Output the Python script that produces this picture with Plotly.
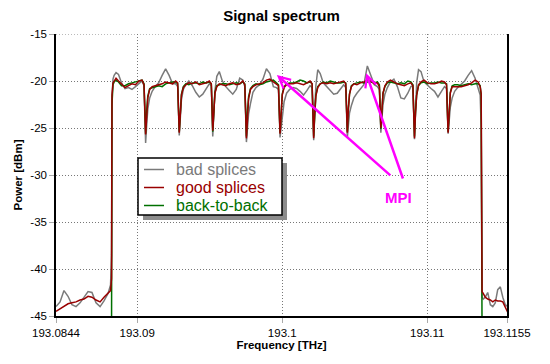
import plotly.graph_objects as go

# ---------------- data ----------------
freq_thz = [
    # left noise floor
    193.08440, 193.08468, 193.08495, 193.08523, 193.08550, 193.08578, 193.08606, 193.08633,
    193.08661, 193.08688, 193.08716, 193.08744, 193.08771, 193.08799, 193.08816, 193.08823,
    # sub-channel 0
    193.08826, 193.08833, 193.08841, 193.08854, 193.08871, 193.08892, 193.08916, 193.08940,
    193.08964, 193.08988, 193.09012, 193.09033, 193.09047,
    # sub-channel 1
    193.09058, 193.09065, 193.09073, 193.09086, 193.09103, 193.09124, 193.09148, 193.09172,
    193.09196, 193.09220, 193.09244, 193.09265, 193.09279,
    # sub-channel 2
    193.09290, 193.09297, 193.09305, 193.09318, 193.09335, 193.09356, 193.09380, 193.09404,
    193.09428, 193.09452, 193.09476, 193.09497, 193.09511,
    # sub-channel 3
    193.09521, 193.09528, 193.09536, 193.09549, 193.09566, 193.09587, 193.09611, 193.09635,
    193.09659, 193.09683, 193.09707, 193.09728, 193.09742,
    # sub-channel 4
    193.09753, 193.09760, 193.09768, 193.09781, 193.09798, 193.09819, 193.09843, 193.09867,
    193.09891, 193.09915, 193.09939, 193.09960, 193.09974,
    # sub-channel 5
    193.09985, 193.09992, 193.10000, 193.10013, 193.10030, 193.10051, 193.10075, 193.10099,
    193.10123, 193.10147, 193.10171, 193.10192, 193.10206,
    # sub-channel 6
    193.10217, 193.10224, 193.10232, 193.10245, 193.10262, 193.10283, 193.10307, 193.10331,
    193.10355, 193.10379, 193.10403, 193.10424, 193.10438,
    # sub-channel 7
    193.10449, 193.10456, 193.10464, 193.10477, 193.10494, 193.10515, 193.10539, 193.10563,
    193.10587, 193.10611, 193.10635, 193.10656, 193.10670,
    # sub-channel 8
    193.10680, 193.10687, 193.10695, 193.10708, 193.10725, 193.10746, 193.10770, 193.10794,
    193.10818, 193.10842, 193.10866, 193.10887, 193.10901,
    # sub-channel 9
    193.10912, 193.10919, 193.10927, 193.10940, 193.10957, 193.10978, 193.11002, 193.11026,
    193.11050, 193.11074, 193.11098, 193.11119, 193.11133,
    # sub-channel 10
    193.11144, 193.11151, 193.11159, 193.11172, 193.11189, 193.11210, 193.11234, 193.11258,
    193.11282, 193.11306, 193.11330, 193.11351, 193.11365,
    # falling edge
    193.11372, 193.11378,
    # right noise floor
    193.11386, 193.11400, 193.11417, 193.11435, 193.11452, 193.11469, 193.11486, 193.11504,
    193.11521, 193.11538, 193.11555,
]

bad_splices_dbm = [
    -44.0, -43.5, -42.3, -42.9, -43.8, -44.0, -43.6, -43.0, -42.4, -42.5, -43.6, -44.0, -43.4, -42.6, -41.7, -38.5,
    -22.0, -19.8, -19.4, -19.1, -19.3, -20.2, -20.8, -20.7, -20.9, -20.6, -20.3, -20.0, -20.5,
    -26.6, -24.8, -23.0, -21.8, -21.1, -20.6, -20.2, -19.4, -18.7, -19.4, -20.3, -20.3, -20.6,
    -25.8, -23.8, -22.0, -20.9, -20.4, -20.0, -20.5, -21.2, -21.7, -21.4, -20.8, -20.3, -20.5,
    -25.9, -23.5, -21.0, -19.5, -19.0, -20.0, -20.6, -21.0, -21.4, -20.9, -19.7, -19.9, -20.6,
    -26.5, -25.0, -23.5, -22.4, -21.2, -20.7, -20.4, -19.8, -18.7, -19.2, -20.6, -20.7, -20.9,
    -26.0, -25.0, -23.6, -22.2, -21.3, -20.9, -20.7, -20.8, -21.1, -21.5, -21.0, -20.5, -20.7,
    -26.3, -23.0, -20.5, -18.8, -19.2, -20.2, -20.6, -20.9, -21.4, -21.3, -20.8, -20.4, -20.7,
    -26.0, -24.8, -23.4, -22.6, -21.8, -21.3, -20.8, -20.4, -18.4, -19.3, -20.4, -20.6, -20.9,
    -25.5, -24.0, -22.5, -21.4, -20.7, -20.1, -19.8, -20.6, -21.8, -21.9, -21.3, -20.6, -20.5,
    -26.2, -22.8, -20.2, -18.8, -19.0, -20.1, -20.5, -20.8, -21.1, -21.7, -21.1, -20.6, -20.8,
    -25.6, -24.3, -22.8, -21.8, -21.1, -20.7, -20.4, -20.0, -19.4, -18.9, -19.7, -20.9, -21.5,
    -25.0, -43.0,
    -43.2, -43.0, -42.5, -43.8, -44.0, -43.6, -42.2, -41.9, -43.0, -43.8, -44.0,
]

good_splices_dbm = [
    -44.5, -44.2, -44.0, -43.7, -43.6, -43.5, -43.3, -43.2, -42.9, -43.0, -43.3, -43.5, -43.0, -42.6, -42.3, -41.0,
    -21.5, -20.2, -20.0, -19.7, -20.0, -20.3, -20.7, -20.5, -20.3, -20.4, -20.0, -19.9, -20.4,
    -25.7, -23.4, -21.8, -20.9, -20.6, -20.5, -20.4, -20.3, -20.1, -20.2, -20.3, -20.0, -20.2,
    -25.5, -23.0, -21.5, -20.7, -20.4, -20.2, -20.3, -20.1, -20.4, -20.3, -20.2, -20.0, -20.3,
    -25.3, -22.8, -21.3, -20.6, -20.3, -20.4, -20.5, -20.3, -20.2, -20.4, -20.3, -20.0, -20.4,
    -26.1, -23.5, -21.9, -20.9, -20.6, -20.4, -20.3, -20.2, -19.9, -19.8, -20.1, -20.3, -20.5,
    -25.6, -23.1, -21.5, -20.7, -20.4, -20.3, -20.3, -20.2, -20.3, -20.4, -20.2, -20.0, -20.3,
    -26.1, -23.4, -21.6, -20.7, -20.3, -20.2, -20.3, -20.2, -20.3, -20.2, -20.1, -20.0, -20.3,
    -25.5, -23.0, -21.4, -20.6, -20.3, -20.4, -20.2, -20.1, -19.9, -20.0, -20.3, -20.2, -20.6,
    -25.0, -22.6, -21.3, -20.5, -20.1, -19.9, -20.1, -20.3, -20.4, -20.5, -20.3, -20.2, -20.5,
    -26.1, -23.4, -21.5, -20.4, -20.1, -19.9, -20.2, -20.3, -20.3, -20.2, -20.0, -20.1, -20.4,
    -25.5, -23.0, -21.3, -20.6, -20.6, -20.6, -20.6, -20.5, -20.4, -20.2, -19.9, -20.1, -20.6,
    -21.3, -42.4,
    -42.6, -43.0, -43.2, -43.3, -43.5, -43.3, -43.4, -43.4, -43.5, -44.0, -44.6,
]

back_to_back_dbm = [
    -47.0, -47.0, -47.0, -47.0, -47.0, -47.0, -47.0, -47.0, -47.0, -47.0, -47.0, -47.0, -47.0, -47.0, -47.0, -47.0,
    -22.5, -20.4, -20.1, -19.9, -20.1, -20.5, -20.5, -20.3, -20.2, -20.1, -20.0, -19.9, -20.3,
    -25.6, -23.2, -21.6, -20.8, -20.7, -20.6, -20.5, -20.6, -20.3, -20.2, -20.1, -20.1, -20.3,
    -25.4, -23.0, -21.4, -20.6, -20.3, -20.4, -20.2, -20.2, -20.3, -20.1, -20.2, -20.1, -20.3,
    -25.4, -22.9, -21.2, -20.5, -20.4, -20.3, -20.3, -20.4, -20.3, -20.2, -20.3, -20.1, -20.3,
    -25.9, -23.3, -21.7, -20.8, -20.5, -20.3, -20.4, -20.3, -20.1, -20.0, -19.9, -20.2, -20.4,
    -25.5, -23.0, -21.4, -20.6, -20.3, -20.2, -20.2, -20.1, -19.9, -20.0, -20.2, -20.1, -20.3,
    -25.9, -23.2, -21.5, -20.6, -20.3, -20.1, -20.2, -20.0, -20.1, -20.2, -20.2, -20.1, -20.2,
    -25.4, -23.0, -21.4, -20.5, -20.3, -20.2, -20.1, -20.2, -20.1, -20.1, -20.2, -20.1, -20.4,
    -25.1, -22.7, -21.3, -20.6, -20.2, -20.1, -20.2, -20.3, -20.2, -20.3, -20.0, -20.1, -20.4,
    -25.9, -23.3, -21.5, -20.5, -20.2, -20.1, -20.3, -20.2, -20.2, -20.1, -20.2, -20.2, -20.3,
    -25.4, -22.9, -21.2, -20.5, -20.4, -20.4, -20.5, -20.4, -20.3, -20.4, -20.3, -20.3, -20.5,
    -21.6, -47.0,
    -47.0, -47.0, -47.0, -47.0, -47.0, -47.0, -47.0, -47.0, -47.0, -47.0, -47.0,
]

series_names = ["bad splices", "good splices", "back-to-back"]
series_colors = ["#7a7a7a", "#990000", "#007000"]

x_tick_vals = [193.0844, 193.09, 193.1, 193.11, 193.1155]
x_tick_text = ["193.0844", "193.09", "193.1", "193.11", "193.1155"]
y_tick_vals = [-45, -40, -35, -30, -25, -20, -15]
y_tick_text = ["-45", "-40", "-35", "-30", "-25", "-20", "-15"]

# ---------------- figure ----------------
PAGE_OFF = 8                      # the page body adds an 8 px margin
W, H = 550 - PAGE_OFF, 364 - PAGE_OFF
ML, MR, MT, MB = 56 - PAGE_OFF, 43, 34 - PAGE_OFF, 48
PW, PH = W - ML - MR, H - MT - MB


def px_x(p):  # window pixel -> paper x (layout placement only)
    return (p - PAGE_OFF - ML) / PW


def px_y(p):  # window pixel -> paper y (layout placement only)
    return (H - MB - (p - PAGE_OFF)) / PH


FONT = "Liberation Sans, Arial, sans-serif"
GRID_DASH = "1px,2px"

fig = go.Figure()
# draw order: bad splices at the back, good splices on top
for series, name, color in [
    (bad_splices_dbm, series_names[0], series_colors[0]),
    (back_to_back_dbm, series_names[2], series_colors[2]),
    (good_splices_dbm, series_names[1], series_colors[1]),
]:
    fig.add_trace(go.Scatter(x=freq_thz, y=series, mode="lines", name=name,
                             line=dict(color=color, width=1.5), showlegend=False))

grid = dict(showgrid=True, gridcolor="#777777", griddash=GRID_DASH, gridwidth=1,
            zeroline=False, showline=True, linecolor="black", linewidth=1.5,
            ticks="outside", ticklen=5, tickcolor="#aaaaaa", tickwidth=1,
            tickfont=dict(size=11.5, color="black", family=FONT))

fig.update_layout(
    width=W, height=H,
    margin=dict(l=ML, r=MR, t=MT, b=MB, autoexpand=False),
    paper_bgcolor="white", plot_bgcolor="white",
    font=dict(family=FONT, color="black", size=11.5),
    title=dict(text="<b>Signal spectrum</b>", x=0.5, xref="paper", xanchor="center",
               y=1 - (16 - PAGE_OFF) / H, yref="container", yanchor="middle",
               font=dict(size=15, color="black", family=FONT)),
    xaxis=dict(range=[193.0844, 193.1155], tickvals=x_tick_vals, ticktext=x_tick_text,
               title=dict(text="<b>Frequency [THz]</b>", standoff=2,
                          font=dict(size=11.5, color="black", family=FONT)),
               **grid),
    yaxis=dict(range=[-45, -15], tickvals=y_tick_vals, ticktext=y_tick_text, mirror=True,
               title=dict(text="<b>Power [dBm]</b>", standoff=5,
                          font=dict(size=11.5, color="black", family=FONT)),
               **grid),
)

# top dotted grid line at -15 dBm
fig.add_shape(type="line", xref="paper", yref="y", x0=0, x1=1, y0=-15, y1=-15,
              line=dict(color="#777777", width=1, dash=GRID_DASH), layer="below")

# legend box with drop shadow (drawn like the reference)
box = dict(l=138, r=282, t=158, b=215)
fig.add_shape(type="rect", xref="paper", yref="paper",
              x0=px_x(box["l"] + 5), x1=px_x(box["r"] + 5),
              y0=px_y(box["b"] + 5), y1=px_y(box["t"] + 5),
              fillcolor="#8c8c8c", line=dict(width=0), layer="above")
fig.add_shape(type="rect", xref="paper", yref="paper",
              x0=px_x(box["l"]), x1=px_x(box["r"]),
              y0=px_y(box["b"]), y1=px_y(box["t"]),
              fillcolor="white", line=dict(color="black", width=1.5), layer="above")
rows = [169.5, 187.5, 205.5]
for name, color, ry in zip(series_names, series_colors, rows):
    fig.add_shape(type="line", xref="paper", yref="paper",
                  x0=px_x(144), x1=px_x(164), y0=px_y(ry), y1=px_y(ry),
                  line=dict(color=color, width=1.5), layer="above")
    fig.add_annotation(text=name, xref="paper", yref="paper", x=px_x(174), y=px_y(ry),
                       xanchor="left", yanchor="middle", showarrow=False,
                       font=dict(size=16, color=color, family=FONT))

# MPI annotation with two arrows (open, line-drawn arrowheads)
MAG = "#ff00ff"
for hx, hy, tx, ty in [(193.09963, -19.36, 193.10756, -30.18),
                       (193.10579, -19.18, 193.10836, -30.53)]:
    fig.add_annotation(text="", x=hx, y=hy, ax=tx, ay=ty, xref="x", yref="y",
                       axref="x", ayref="y", showarrow=True, arrowhead=5,
                       arrowsize=0.9, arrowwidth=2.5, arrowcolor=MAG, standoff=0)
fig.add_annotation(text="<b>MPI</b>", x=193.1080, y=-32.4, xref="x", yref="y",
                   showarrow=False, font=dict(size=15, color=MAG, family=FONT))

fig.write_html("out.html")
